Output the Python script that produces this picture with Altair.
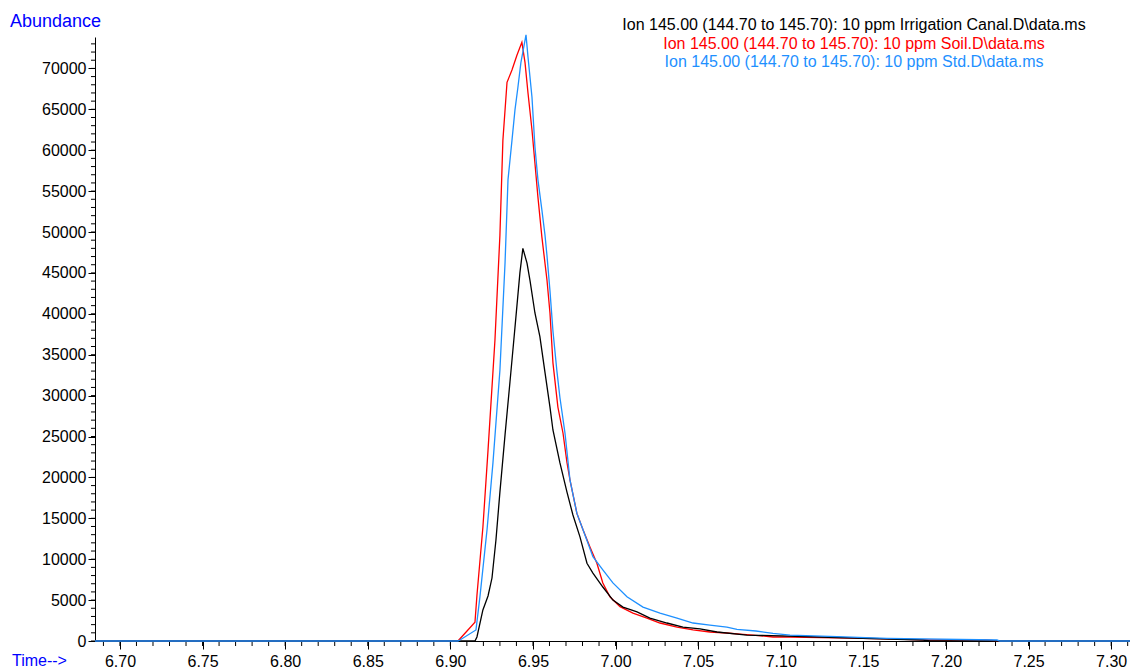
import altair as alt
import pandas as pd

# ---- data ----
canal_time = [6.6849, 6.9149, 6.9161, 6.9197, 6.9228, 6.9252, 6.9276, 6.9300, 6.9331, 6.9361,
              6.9391, 6.9421, 6.9439, 6.9464, 6.9482, 6.9512, 6.9542, 6.9573, 6.9603, 6.9621,
              6.9663, 6.9706, 6.9742, 6.9785, 6.9827, 6.9863, 6.9923, 6.9984, 7.0045, 7.0130,
              7.0208, 7.0311, 7.0408, 7.0511, 7.0614, 7.0795, 7.1237, 7.1861, 7.1903, 7.3114]
canal_abund = [0, 0, 490, 3800, 5500, 7700, 12350, 18200, 25200, 31700,
               38300, 45000, 48000, 46200, 44100, 40100, 37200, 32800, 28600, 25800,
               21800, 18200, 15400, 12700, 9500, 8300, 6600, 5000, 4150, 3550,
               2800, 2200, 1700, 1470, 1100, 730, 490, 120, 0, 0]

soil_time = [6.6849, 6.9046, 6.9149, 6.9161, 6.9197, 6.9228, 6.9270, 6.9300, 6.9318, 6.9343,
             6.9373, 6.9403, 6.9433, 6.9452, 6.9470, 6.9494, 6.9512, 6.9530, 6.9554, 6.9585,
             6.9603, 6.9621, 6.9651, 6.9682, 6.9706, 6.9724, 6.9766, 6.9803, 6.9845, 6.9887,
             6.9923, 6.9966, 7.0027, 7.0105, 7.0190, 7.0269, 7.0372, 7.0469, 7.0571, 7.0674,
             7.0753, 7.0832, 7.0953, 7.1056, 7.1340, 7.1643, 7.1903, 7.2242, 7.2309, 7.3114]
soil_abund = [0, 0, 2300, 5600, 13900, 23300, 36800, 49600, 61200, 68300,
              69800, 71600, 73200, 70700, 67000, 62500, 58400, 54300, 49400, 44100,
              40100, 34000, 28600, 25400, 21800, 19700, 15600, 13600, 11500, 9500,
              7100, 5400, 4200, 3400, 2800, 2200, 1700, 1350, 1100, 980,
              850, 730, 490, 490, 370, 250, 120, 120, 0, 0]

std_time = [6.6849, 6.9046, 6.9058, 6.9155, 6.9179, 6.9222, 6.9258, 6.9300, 6.9331, 6.9349,
            6.9373, 6.9391, 6.9409, 6.9427, 6.9458, 6.9470, 6.9494, 6.9512, 6.9530, 6.9554,
            6.9573, 6.9585, 6.9603, 6.9621, 6.9645, 6.9663, 6.9694, 6.9724, 6.9766, 6.9803,
            6.9863, 6.9923, 6.9984, 7.0069, 7.0166, 7.0269, 7.0372, 7.0469, 7.0571, 7.0674,
            7.0735, 7.0850, 7.0953, 7.1056, 7.1340, 7.1643, 7.2309, 7.2327, 7.3114]
std_abund = [0, 0, 120, 1350, 5400, 13600, 21800, 33100, 46200, 56400,
             61200, 64900, 67700, 70700, 74100, 71400, 66500, 60400, 56400, 52700,
             49600, 47100, 42800, 37900, 33000, 29800, 25400, 19700, 15600, 13600,
             10300, 8700, 7100, 5400, 4150, 3400, 2800, 2200, 1950, 1700,
             1430, 1220, 940, 730, 525, 330, 120, 0, 0]

legend_labels = [
    "Ion 145.00 (144.70 to 145.70): 10 ppm Irrigation Canal.D\\data.ms",
    "Ion 145.00 (144.70 to 145.70): 10 ppm Soil.D\\data.ms",
    "Ion 145.00 (144.70 to 145.70): 10 ppm Std.D\\data.ms",
]
series_colors = ["#000000", "#FF0000", "#1E90FF"]

y_major = list(range(0, 70001, 5000))
x_major = [6.70, 6.75, 6.80, 6.85, 6.90, 6.95, 7.00, 7.05, 7.10, 7.15, 7.20, 7.25, 7.30]
y_minor = list(range(0, 74000, 1000))
x_minor = [round(6.69 + 0.01 * i, 2) for i in range(63)]

X_DOMAIN = [6.6849, 7.3114]
Y_DOMAIN = [0, 73840]
W, H = 1035, 604
FONT = "Liberation Sans"

x_scale = alt.Scale(domain=X_DOMAIN, nice=False, zero=False)
y_scale = alt.Scale(domain=Y_DOMAIN, nice=False, zero=False)

x_axis = alt.Axis(values=x_major, format=".2f", tickSize=8, labelPadding=17,
                  labelBaseline="alphabetic", labelFont=FONT, labelFontSize=16,
                  labelColor="black", domainColor="black", tickColor="black",
                  grid=False, title=None, labelFlush=False, labelOverlap=False)
y_axis = alt.Axis(values=y_major, format="d", tickSize=7, labelPadding=2,
                  labelBaseline="middle", labelFont=FONT, labelFontSize=16,
                  labelColor="black", domainColor="black", tickColor="black",
                  grid=False, title=None, labelFlush=False, labelOverlap=False)


def line(t, a, color):
    df = pd.DataFrame({"t": t, "a": a})
    return alt.Chart(df).mark_line(color=color, strokeWidth=1.3).encode(
        x=alt.X("t:Q", scale=x_scale, axis=x_axis),
        y=alt.Y("a:Q", scale=y_scale, axis=y_axis),
    )


def text(s, x, y, color, size, align):
    return alt.Chart(pd.DataFrame({"s": [s]})).mark_text(
        align=align, baseline="alphabetic", font=FONT, fontSize=size, color=color
    ).encode(x=alt.value(x), y=alt.value(y), text="s:N")


y_minor_rules = alt.Chart(pd.DataFrame({"v": y_minor})).mark_rule(color="black", strokeWidth=1).encode(
    y=alt.Y("v:Q", scale=y_scale, axis=y_axis), x=alt.value(-4), x2=alt.value(0))
x_minor_rules = alt.Chart(pd.DataFrame({"v": x_minor})).mark_rule(color="black", strokeWidth=1).encode(
    x=alt.X("v:Q", scale=x_scale, axis=x_axis), y=alt.value(H), y2=alt.value(H + 5))

chart = alt.layer(
    y_minor_rules,
    x_minor_rules,
    line(soil_time, soil_abund, series_colors[1]),
    line(canal_time, canal_abund, series_colors[0]),
    line(std_time, std_abund, series_colors[2]),
    text("Abundance", -85, -10, "#0000FF", 18, "left"),
    text("Time-->", -83, 629, "#0000FF", 16, "left"),
    text(legend_labels[0], 759, -7, series_colors[0], 16, "center"),
    text(legend_labels[1], 759, 11.5, series_colors[1], 16, "center"),
    text(legend_labels[2], 759, 30, series_colors[2], 16, "center"),
).properties(
    width=W, height=H,
    autosize=alt.AutoSizeParams(type="none"),
    padding={"left": 87, "top": 29, "right": 0, "bottom": 28},
).configure_view(stroke=None)

chart.save("out.html", embed_options={"renderer": "svg", "actions": False})
